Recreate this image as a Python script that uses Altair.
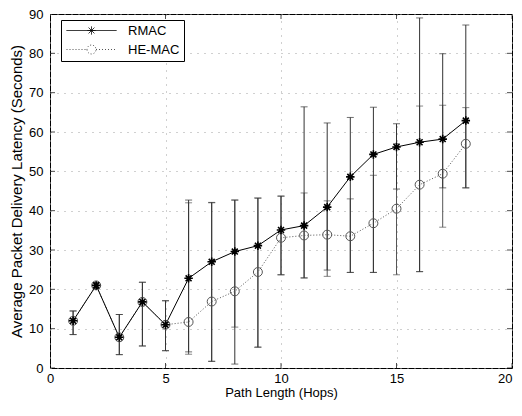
import altair as alt
import pandas as pd

# ---- data ----
hops = list(range(1, 19))
rmac_mean = [12, 21, 7.8, 16.8, 11, 22.8, 27, 29.6, 31.1, 35.1, 36.2, 40.9, 48.6, 54.3, 56.2, 57.4, 58.2, 62.9]
rmac_low = [8.5, 20.3, 3.4, 5.6, 4.4, 4.1, 1.7, 1.0, 5.3, 23.7, 22.9, 24.9, 24.3, 24.3, 45.5, 24.5, 45.8, 45.8]
rmac_high = [14.5, 21.7, 13.6, 21.8, 17.1, 42.7, 42.1, 42.7, 43.2, 43.7, 66.4, 62.3, 63.7, 66.3, 62.1, 89.0, 79.9, 87.2]
he_mean = [12, 21, 7.8, 16.8, 11, 11.7, 16.9, 19.5, 24.4, 33.1, 33.7, 33.9, 33.5, 36.8, 40.5, 46.6, 49.4, 57.0]
he_low = [8.5, 20.3, 3.4, 5.6, 4.4, 3.5, 1.7, 10.4, 5.3, 23.7, 22.9, 23.3, 24.3, 24.3, 23.7, 24.5, 35.8, 45.8]
he_high = [14.5, 21.7, 13.6, 21.8, 17.1, 42.0, 42.0, 42.7, 43.2, 43.7, 44.5, 42.5, 43.0, 49.0, 57.0, 66.6, 66.8, 66.2]
series_names = ["RMAC", "HE-MAC"]

x_ticks = [0, 5, 10, 15, 20]
y_ticks = [0, 10, 20, 30, 40, 50, 60, 70, 80, 90]
x_lim = [0, 20]
y_lim = [0, 90]

rows = []
for i, h in enumerate(hops):
    rows.append({"hops": h, "series": "RMAC", "mean": rmac_mean[i], "low": rmac_low[i], "high": rmac_high[i]})
    rows.append({"hops": h, "series": "HE-MAC", "mean": he_mean[i], "low": he_low[i], "high": he_high[i]})
df = pd.DataFrame(rows)

# inward tick positions (from the axis tick values)
xt = pd.DataFrame([{"hops": v, "mean": e} for v in x_ticks for e in y_lim])
yt = pd.DataFrame([{"hops": e, "mean": v} for v in y_ticks for e in x_lim])

FONT = "Liberation Sans"

x_axis = alt.Axis(values=x_ticks, title="Path Length (Hops)", ticks=False,
                  labelPadding=4, titlePadding=1, grid=True,
                  gridDash=[1, 6], gridColor="#a0a0a0", domain=False,
                  labelAlign=alt.condition("datum.value == 20", alt.value("right"), alt.value("center")))
y_axis = alt.Axis(values=y_ticks, title="Average Packet Delivery Latency (Seconds)",
                  ticks=False, labelPadding=7, titlePadding=4, grid=True,
                  gridDash=[1, 6], gridColor="#a0a0a0", domain=False,
                  titleFontSize=15)
x_scale = alt.Scale(domain=x_lim, nice=False)
y_scale = alt.Scale(domain=y_lim, nice=False)

def X():
    return alt.X("hops:Q", scale=x_scale, axis=x_axis)

def Y(field):
    return alt.Y(f"{field}:Q", scale=y_scale, axis=y_axis)

base = alt.Chart(df)

def err_layers(name, color):
    d = base.transform_filter(alt.datum.series == name)
    rule = d.mark_rule(color=color, strokeWidth=1).encode(
        x=X(), y=Y("low"), y2="high:Q")
    cap_lo = d.mark_tick(color=color, orient="horizontal", size=7, thickness=1).encode(
        x=X(), y=Y("low"))
    cap_hi = d.mark_tick(color=color, orient="horizontal", size=7, thickness=1).encode(
        x=X(), y=Y("high"))
    return [rule, cap_lo, cap_hi]

he = base.transform_filter(alt.datum.series == "HE-MAC")
rm = base.transform_filter(alt.datum.series == "RMAC")

he_line = he.mark_line(color="#555555", strokeWidth=1, strokeDash=[1, 2]).encode(x=X(), y=Y("mean"))
rm_line = rm.mark_line(color="black", strokeWidth=1).encode(x=X(), y=Y("mean"))

he_pts = he.mark_point(shape="circle", size=80, filled=False, color="#555555", strokeWidth=1, opacity=1).encode(
    x=X(), y=Y("mean"))
star = "M0,-1L0,1M-1,0L1,0M-0.7,-0.7L0.7,0.7M-0.7,0.7L0.7,-0.7"
rm_pts = rm.mark_point(shape=star, size=72, filled=False, color="black", strokeWidth=1.6, opacity=1).encode(
    x=X(), y=Y("mean"))

# inward axis ticks (clipped half outside)
xtick_layer = alt.Chart(xt).mark_tick(color="black", orient="vertical", size=10, thickness=1, clip=True).encode(
    x=X(), y=Y("mean"))
ytick_layer = alt.Chart(yt).mark_tick(color="black", orient="horizontal", size=10, thickness=1, clip=True).encode(
    x=X(), y=Y("mean"))

# legend layer (no visible data, legend only)
leg_star = "M-5,0L5,0M0,-0.8L0,0.8M-0.8,0L0.8,0M-0.57,-0.57L0.57,0.57M-0.57,0.57L0.57,-0.57"
leg_circ = "M-5,0L-0.9,0M0.9,0L5,0M-0.9,0A0.9,0.9,0,1,0,0.9,0A0.9,0.9,0,1,0,-0.9,0"
legend = alt.Legend(title=None, orient="none", legendX=11, legendY=6,
                    strokeColor="black", fillColor="white", padding=4,
                    symbolOffset=20, labelOffset=30, rowPadding=5,
                    labelFont=FONT, labelFontSize=13, labelColor="black",
                    symbolStrokeWidth=1, symbolSize=100)
leg_layer = base.transform_filter(alt.datum.hops < 0).mark_point(filled=False, size=100, opacity=1).encode(
    shape=alt.Shape("series:N", scale=alt.Scale(domain=series_names, range=[leg_star, leg_circ]), legend=legend),
    strokeDash=alt.StrokeDash("series:N", scale=alt.Scale(domain=series_names, range=[[1, 0], [1, 2]]), legend=legend),
    color=alt.Color("series:N", scale=alt.Scale(domain=series_names, range=["black", "#555555"]), legend=legend),
)

layers = [xtick_layer, ytick_layer] + err_layers("HE-MAC", "#555555") + err_layers("RMAC", "#333333") + \
         [he_line, rm_line, he_pts, rm_pts, leg_layer]

chart = alt.layer(*layers).properties(
    width=462, height=354,
    autosize=alt.AutoSizeParams(type="none"),
    padding={"left": 42, "top": 6, "right": 2, "bottom": 34},
).configure_view(
    stroke="black", strokeWidth=1
).configure_axis(
    labelFont=FONT, titleFont=FONT, labelFontSize=13, titleFontSize=13,
    labelColor="black", titleColor="black", titleFontWeight="normal"
)

chart.save("out.html", embed_options={"renderer": "svg", "actions": False})
